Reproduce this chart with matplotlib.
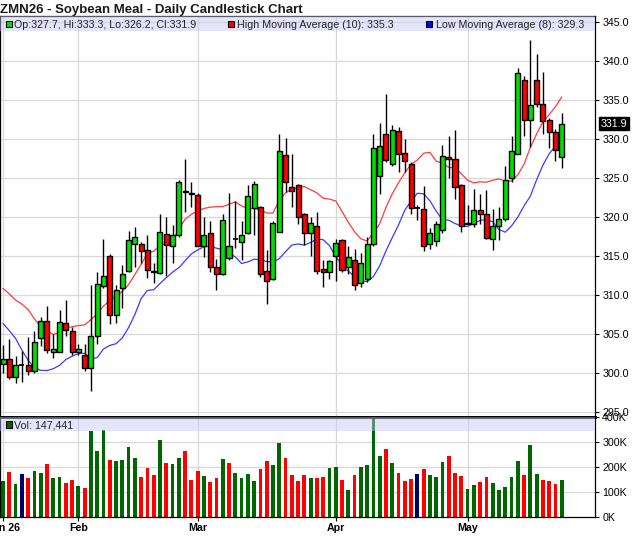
import matplotlib
matplotlib.use("Agg")
import matplotlib.pyplot as plt
from matplotlib.patches import Rectangle
import matplotlib.transforms as mtransforms

plt.rcParams['font.family'] = ['Liberation Sans', 'DejaVu Sans']

# ---------------- data ----------------
opens = [301.1, 301.7, 299.4, 301.0, 301.0, 300.2, 304.4, 306.6, 302.6, 302.6,
         306.4, 305.4, 302.6, 302.3, 300.6, 304.7, 311.1, 315.0, 307.4, 310.8,
         313.0, 316.5, 316.5, 315.7, 313.0, 312.8, 317.8, 316.3, 317.6, 323.3,
         323.0, 322.8, 316.2, 317.9, 313.6, 312.7, 314.7, 317.1, 316.7, 317.95,
         321.15, 321.2, 313.0, 312.05, 318.1, 327.9, 323.8, 324.0, 320.3, 317.95,
         318.8, 313.25, 312.9, 315.0, 317.05, 313.5, 314.5, 311.5, 312.05, 316.45,
         325.2, 330.6, 326.7, 331.0, 328.2, 326.8, 321.15, 321.0, 316.5, 316.9,
         318.3, 327.7, 327.4, 324.05, 319.1, 319.0, 320.85, 320.4, 317.1, 318.85,
         319.65, 324.96, 328.0, 337.5, 332.4, 337.5, 334.45, 332.4, 330.9, 327.7]
highs = [303.6, 304.3, 302.2, 302.8, 304.6, 305.4, 307.1, 308.6, 305.0, 308.0,
         309.3, 305.9, 303.7, 303.7, 311.2, 312.9, 317.2, 315.2, 311.2, 313.8,
         318.2, 318.7, 316.8, 317.7, 314.1, 320.3, 320.0, 318.9, 324.7, 327.4,
         324.4, 323.0, 320.0, 319.5, 314.6, 320.4, 323.0, 322.0, 319.5, 324.0,
         324.6, 321.4, 315.7, 319.5, 330.6, 330.1, 328.0, 324.2, 320.5, 320.0,
         320.6, 314.5, 314.5, 317.2, 317.2, 316.2, 315.8, 315.3, 317.4, 330.6,
         332.05, 335.7, 331.8, 331.5, 329.9, 327.0, 321.5, 323.9, 318.5, 319.5,
         329.2, 330.3, 331.15, 324.2, 321.5, 323.55, 322.9, 323.4, 321.0, 321.2,
         326.5, 330.4, 339.0, 338.0, 342.7, 340.9, 338.6, 332.6, 331.2, 333.3]
lows = [300.0, 299.2, 298.7, 298.8, 299.7, 299.9, 303.4, 302.5, 301.9, 302.6,
        304.7, 302.3, 302.3, 300.2, 297.7, 303.7, 310.8, 306.3, 306.4, 308.3,
        312.9, 313.5, 314.1, 312.1, 311.5, 312.6, 312.4, 314.0, 317.4, 320.6,
        321.2, 316.2, 314.8, 312.9, 310.6, 312.5, 314.5, 316.0, 314.5, 317.8,
        317.6, 312.3, 308.85, 311.9, 318.0, 323.2, 321.2, 319.0, 316.4, 315.0,
        312.6, 311.0, 312.0, 311.75, 312.9, 312.6, 310.6, 311.0, 311.6, 316.2,
        322.95, 327.0, 326.5, 325.7, 325.7, 320.4, 319.6, 315.6, 315.9, 316.3,
        317.9, 325.0, 322.3, 318.0, 319.0, 318.7, 319.0, 317.2, 315.7, 317.0,
        319.5, 324.4, 328.0, 330.3, 328.9, 334.1, 330.6, 328.8, 327.2, 326.2]
closes = [301.7, 299.4, 301.0, 301.0, 300.2, 303.9, 306.6, 302.9, 303.1, 306.5,
          305.5, 302.6, 303.1, 300.6, 304.7, 311.4, 312.4, 307.4, 310.6, 312.6,
          317.0, 317.4, 315.6, 313.2, 312.9, 318.0, 316.4, 317.6, 324.4, 323.2,
          322.9, 316.3, 317.7, 313.6, 312.6, 319.6, 316.3, 317.1, 317.7, 322.6,
          324.2, 312.7, 311.7, 319.2, 328.4, 324.4, 323.25, 319.9, 317.95, 319.2,
          313.0, 312.9, 314.3, 316.6, 313.2, 314.8, 311.2, 314.0, 316.45, 328.85,
          329.0, 327.3, 331.15, 328.1, 327.2, 321.15, 321.15, 316.3, 317.95, 319.05,
          327.8, 327.4, 323.85, 318.85, 319.25, 320.85, 320.4, 317.3, 318.8, 319.65,
          324.7, 328.4, 338.4, 332.4, 334.3, 334.45, 332.3, 330.9, 328.5, 331.9]
volumes = [145000, 180000, 132000, 172000, 157000, 185000, 177000, 212000, 157000, 160000,
           137000, 148000, 125000, 117000, 345000, 265000, 348000, 228000, 224000, 228000,
           280000, 236000, 160000, 197000, 168000, 308000, 216000, 212000, 236000, 265000,
           148000, 185000, 165000, 141000, 157000, 232000, 216000, 177000, 157000, 172000,
           145000, 193000, 224000, 209000, 296000, 236000, 168000, 145000, 168000, 157000,
           157000, 160000, 197000, 200000, 149000, 109000, 168000, 200000, 208000, 430000,
           244000, 273000, 216000, 177000, 145000, 152000, 172000, 193000, 168000, 160000,
           220000, 244000, 177000, 165000, 112000, 128000, 141000, 160000, 137000, 109000,
           120000, 160000, 224000, 168000, 288000, 172000, 149000, 145000, 133000, 147441]
# moving-average values before a full window of visible bars exists
high_ma_start = [310.8, 310.1, 309.3, 308.8, 308.1, 306.9, 305.9, 305.4, 304.9]
low_ma_start = [306.3, 305.4, 304.4, 302.9, 301.6, 300.6, 300.3]
month_ticks = [0, 12, 31, 53, 74]
month_labels = ["Jan 26", "Feb", "Mar", "Apr", "May"]
price_ticks = [295, 300, 305, 310, 315, 320, 325, 330, 335, 340, 345]
vol_ticks = [0, 100000, 200000, 300000, 400000]
title = "ZMN26 - Soybean Meal - Daily Candlestick Chart"

n = len(closes)
HP, LP = 10, 8
high_ma = high_ma_start + [sum(highs[i - HP + 1:i + 1]) / HP for i in range(HP - 1, n)]
low_ma = low_ma_start + [sum(lows[i - LP + 1:i + 1]) / LP for i in range(LP - 1, n)]

# ---------------- style ----------------
W, H = 640, 536
C_UP = '#00e000'
C_DN = '#ff0000'
C_VUP = '#006600'
C_VDN = '#ff0000'
C_VEQ = '#000066'
GRID = '#d8d8d8'
BAND = (0.78, 0.78, 0.96, 0.45)
FS = 7.7

fig = plt.figure(figsize=(W / 100, H / 100), dpi=100)
L, R = 0.0, 595 / W
ax = fig.add_axes([L, 1 - 417 / H, R - L, (417 - 16) / H])
axv = fig.add_axes([L, 1 - 517 / H, R - L, 100 / H], sharex=ax)

x = list(range(n))
xlim = (-0.48, 94.3)

# candles
for i in x:
    o, h, l, c = opens[i], highs[i], lows[i], closes[i]
    ax.vlines(i, l, h, color='black', lw=1.0, zorder=3)
    if abs(c - o) < 1e-9:
        ax.hlines(o, i - 0.4, i + 0.4, color='black', lw=1.3, zorder=4)
    else:
        col = C_UP if c > o else C_DN
        ax.add_patch(Rectangle((i - 0.4, min(o, c)), 0.8, abs(c - o),
                               facecolor=col, edgecolor='black', lw=1.0, zorder=4))

ax.plot(x, high_ma, color='#ff3b3b', lw=0.9, zorder=2)
ax.plot(x, low_ma, color='#3b3bff', lw=0.9, zorder=2)

ax.set_xlim(*xlim)
ax.set_ylim(294.32, 345.73)
ax.set_yticks(price_ticks)
ax.set_yticklabels([f"{v:.1f}" for v in price_ticks])
ax.yaxis.tick_right()
ax.tick_params(axis='y', which='both', length=3, width=0.8, pad=2.2, labelsize=FS, colors='black')
ax.tick_params(axis='x', which='both', length=0, labelbottom=False)
ax.set_xticks(month_ticks)
ax.grid(True, color=GRID, lw=0.9, zorder=0)
ax.set_axisbelow(True)
for s in ax.spines.values():
    s.set_color('black')
    s.set_linewidth(0.9)
ax.spines['bottom'].set_linewidth(2.0)

# volume
vcols = []
for i in x:
    prev = closes[i - 1] if i > 0 else opens[i]
    if closes[i] > prev + 1e-9:
        vcols.append(C_VUP)
    elif closes[i] < prev - 1e-9:
        vcols.append(C_VDN)
    else:
        vcols.append(C_VEQ)
axv.bar(x, volumes, width=0.6, color=vcols, zorder=2)
axv.set_ylim(0, 400000)
axv.set_yticks(vol_ticks)
axv.set_yticklabels([f"{int(v / 1000)}K" for v in vol_ticks])
axv.yaxis.tick_right()
axv.tick_params(axis='y', length=3, width=0.8, pad=2.2, labelsize=FS, colors='black')
axv.set_xticks(month_ticks)
axv.set_xticklabels(month_labels, fontweight='bold')
axv.tick_params(axis='x', length=3, width=0.8, pad=1.5, labelsize=FS, colors='black')
axv.grid(True, color=GRID, lw=0.9, zorder=0)
axv.set_axisbelow(True)
for s in axv.spines.values():
    s.set_color('black')
    s.set_linewidth(0.9)
axv.spines['top'].set_linewidth(2.0)

# legend bands
ax.add_patch(Rectangle((0, (417 - 30.5) / 401), 1, 1, transform=ax.transAxes,
                       facecolor=BAND, edgecolor='none', zorder=5, clip_on=True))
axv.add_patch(Rectangle((0, (517 - 431) / 100), 1, 1, transform=axv.transAxes,
                        facecolor=BAND, edgecolor='none', zorder=5, clip_on=True))

def px(xp, yp):
    return xp / W, 1 - yp / H

def square(xp, yp, col, size=6.6):
    fx, fy = px(xp, yp + size)
    fig.patches.append(Rectangle((fx, fy), size / W, size / H, transform=fig.transFigure,
                                 facecolor=col, edgecolor='black', lw=0.8, zorder=10))

TXT = '#222222'
square(5.7, 20.7, C_UP)
fig.text(*px(14.5, 27.5), f"Op:{opens[-1]:.1f}, Hi:{highs[-1]:.1f}, Lo:{lows[-1]:.1f}, Cl:{closes[-1]:.1f}",
         fontsize=FS, color=TXT, va='baseline', ha='left', zorder=11)
square(227.5, 20.7, C_DN)
fig.text(*px(237, 27.5), f"High Moving Average ({HP}): {high_ma[-1]:.1f}",
         fontsize=FS, color=TXT, va='baseline', ha='left', zorder=11)
square(425.5, 20.7, '#0000ff')
fig.text(*px(435.5, 27.5), f"Low Moving Average ({LP}): {low_ma[-1]:.1f}",
         fontsize=FS, color=TXT, va='baseline', ha='left', zorder=11)

square(5.5, 421.3, C_VUP)
fig.text(*px(14.5, 428.5), f"Vol: {volumes[-1]:,}", fontsize=FS, color=TXT,
         va='baseline', ha='left', zorder=11)

fig.text(*px(0, 12.8), title, fontsize=9.5, fontweight='bold', color='#1a1a1a',
         va='baseline', ha='left')

# last price tag
trans = mtransforms.blended_transform_factory(ax.transAxes, ax.transData)
ax.annotate(f"{closes[-1]:.1f}", xy=(1, closes[-1]), xycoords=trans,
            xytext=(5.5, 0), textcoords='offset pixels', ha='left', va='center',
            fontsize=FS, color='white', annotation_clip=False, zorder=20,
            bbox=dict(boxstyle='square,pad=0.15', facecolor='black', edgecolor='black'))

fig.savefig('out.png', dpi=100)
